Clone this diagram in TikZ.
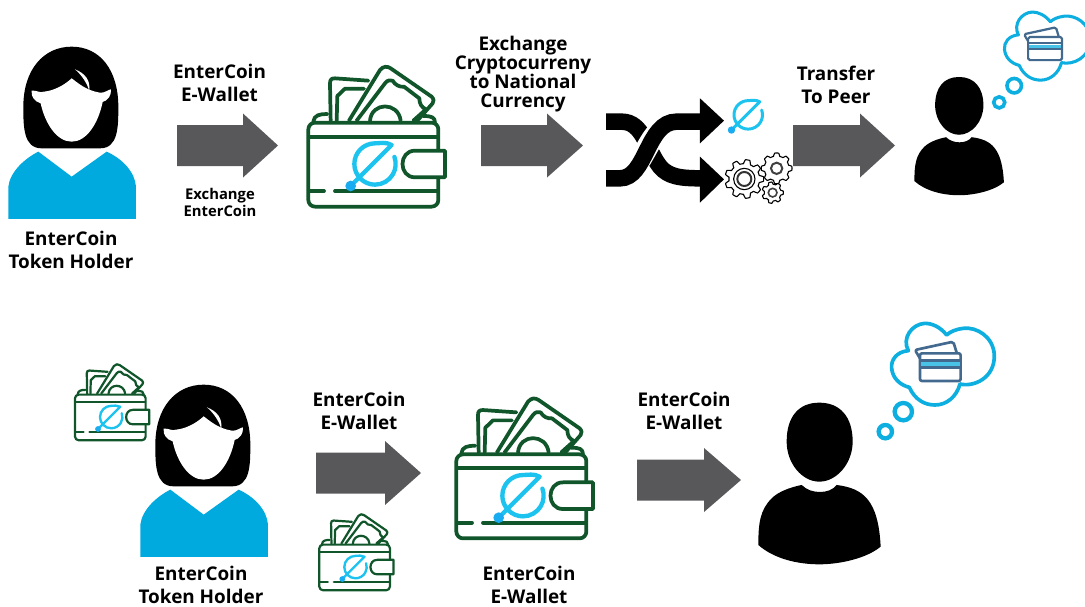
\documentclass[tikz,border=0pt]{standalone}
\usepackage{fontspec}
\setmainfont{Open Sans}
\definecolor{wgreen}{HTML}{10562A}
\definecolor{ecyan}{HTML}{1CC3EF}
\definecolor{wblue}{HTML}{00A9DE}
\definecolor{cblue}{HTML}{0DAEE0}
\definecolor{cardblue}{HTML}{44698F}
\definecolor{arrowgray}{HTML}{58585A}
\tikzset{
  lab/.style={align=center,text=black,font=\bfseries\fontsize{18.9}{22.5}\selectfont,inner sep=0pt},
  labtight/.style={align=center,text=black,font=\bfseries\fontsize{18.9}{19}\selectfont,inner sep=0pt},
  labsmall/.style={align=center,text=black,font=\bfseries\fontsize{14.8}{17}\selectfont,inner sep=0pt},
  blockarrow/.style={fill=arrowgray,draw=none},
}
\newcommand{\blockarr}[4]{\fill[blockarrow] (#1,#4-20.5) -- (#2,#4-20.5) -- (#2,#4-32) -- (#3,#4) -- (#2,#4+32) -- (#2,#4+20.5) -- (#1,#4+20.5) -- cycle;}
\newcommand{\elogo}[3]{\begin{scope}[shift={(#1,#2)},x=#3pt,y=-#3pt]
  \draw[ecyan,line width=#3*13pt,line cap=round,line join=round] (150,470) -- (275,345) .. controls (258,335) and (240,340) .. (225,340) arc[start angle=-90,end angle=-380,radius=62];
  \fill[ecyan!88!blue] (152,468) circle[radius=16];
\end{scope}}
\newcommand{\wallet}[3]{\begin{scope}[shift={(#1,#2)},x=#3pt,y=-#3pt]
  \begin{scope}[wgreen,line width=#3*10pt+0.4pt,line join=round,line cap=round]
  \draw (40,275) .. controls (42,255) and (60,252) .. (82,252);
  \draw (370,258) .. controls (395,258) and (405,262) .. (405,278);
  \draw (92,272) -- (90,160) .. controls (90,148) and (95,145) .. (105,145) -- (205,152);
  \draw (110,272) -- (112,198) -- (135,176) -- (192,176);
  \draw[fill=white] (147,272) -- (240,120) .. controls (250,108) and (262,108) .. (272,115) -- (395,200) .. controls (402,208) and (402,212) .. (398,220) -- (352,272);
  \draw (170,272) -- (255,160) .. controls (262,150) and (270,150) .. (278,152) .. controls (285,165) and (300,172) .. (312,170) -- (358,205) .. controls (358,222) and (365,232) .. (378,238) -- (340,272);
  \draw (210,272) .. controls (215,215) and (295,215) .. (302,272);
  \draw[fill=white,rounded corners=#3*20pt] (25,278) rectangle (415,530);
  \draw (28,320) -- (412,320);
  \draw (28,483) -- (72,483);
  \draw (105,483) -- (412,483);
  \end{scope}
  \draw[wgreen,line width=#3*10pt+0.4pt,fill=white,line join=round] (435,362) -- (345,362) .. controls (295,362) and (295,442) .. (345,442) -- (435,442) -- cycle;
\end{scope}
\elogo{#1}{#2}{#3}}
\newcommand{\womanfig}[2]{\begin{scope}[shift={(#1,#2)},x=0.3333pt,y=-0.3333pt]
  \fill[black] (215,50) .. controls (300,50) and (355,120) .. (355,230) .. controls (355,290) and (355,355) .. (300,355) -- (125,355) .. controls (70,355) and (70,290) .. (70,230) .. controls (70,120) and (130,50) .. (215,50) -- cycle;
  \fill[white] (132,185) .. controls (160,182) and (190,168) .. (215,145) .. controls (235,160) and (260,182) .. (300,188) .. controls (315,190) and (325,178) .. (333,178) .. controls (335,198) and (322,212) .. (308,216) .. controls (295,280) and (260,335) .. (215,335) .. controls (170,335) and (135,280) .. (122,220) .. controls (105,215) and (92,200) .. (95,182) .. controls (108,180) and (120,190) .. (132,185) -- cycle;
  \fill[white] (225,118) .. controls (255,130) and (272,150) .. (268,184) .. controls (262,160) and (245,135) .. (225,118) -- cycle;
  \fill[wblue] (25,567) -- (25,470) .. controls (30,425) and (75,385) .. (115,365) -- (215,440) -- (320,365) .. controls (365,385) and (405,425) .. (408,470) -- (408,567) -- cycle;
\end{scope}}
\newcommand{\gearfig}[5]{\draw[black,line width=1.1pt,fill=white,line join=round] plot[variable=\t,domain=0:360,samples=#5*12+1] ({#1+(#4+(#3-#4)*0.5*(1+max(-1,min(1,3*cos(#5*\t)))))*cos(\t)},{#2+(#4+(#3-#4)*0.5*(1+max(-1,min(1,3*cos(#5*\t)))))*sin(\t)}) -- cycle;}
\newcommand{\personfig}[3]{\begin{scope}[shift={(#1,#2)},x=#3pt,y=-#3pt]
  \fill[black] (238,278) .. controls (300,278) and (338,320) .. (338,395) .. controls (338,460) and (290,515) .. (238,515) .. controls (186,515) and (140,460) .. (140,395) .. controls (140,320) and (176,278) .. (238,278) -- cycle;
  \fill[black] (55,705) .. controls (55,640) and (60,600) .. (95,565) .. controls (115,545) and (150,532) .. (185,525) .. controls (200,540) and (220,546) .. (240,546) .. controls (260,546) and (278,540) .. (290,525) .. controls (370,535) and (415,570) .. (422,710) .. controls (380,745) and (300,763) .. (238,763) .. controls (170,763) and (100,745) .. (55,705) -- cycle;
\end{scope}}
\newcommand{\thoughtfig}[3]{\begin{scope}[shift={(#1,#2)},x=#3pt,y=-#3pt]
  \draw[cblue,line width=#3*13pt] (490,305) circle[radius=26];
  \draw[cblue,line width=#3*13pt] (436,365) circle[radius=20];
  \draw[cblue,line width=#3*11pt,fill=white,line join=round] (505,122) .. controls (470,125) and (452,150) .. (455,175) .. controls (458,205) and (480,225) .. (508,232) .. controls (525,270) and (555,285) .. (585,285) .. controls (620,285) and (650,260) .. (660,222) .. controls (700,232) and (765,205) .. (763,135) .. controls (760,80) and (710,50) .. (670,55) .. controls (650,57) and (630,65) .. (620,75) .. controls (600,50) and (575,40) .. (555,40) .. controls (515,42) and (485,85) .. (505,122) -- cycle;
  \begin{scope}[cardblue,line width=#3*8pt,line join=round]
  \draw[rounded corners=#3*6pt] (540,145) -- (525,120) -- (640,95) -- (650,128);
  \draw[fill=white,rounded corners=#3*6pt] (540,130) rectangle (662,213);
  \fill[cblue!75!white] (542,157) rectangle (660,170);
  \draw (540,152) -- (662,152);
  \draw (540,172) -- (662,172);
  \end{scope}
\end{scope}}
\begin{document}
\begin{tikzpicture}[x=1pt,y=-1pt]
\useasboundingbox (0,0) rectangle (1085,606);
% top row
\womanfig{0}{30}
\node[lab] (holderA) at (71,250) {EnterCoin\\Token Holder};
\node[lab] (walletlabA) at (219.5,83) {EnterCoin\\E-Wallet};
\blockarr{177}{243}{278}{145.5}
\node[labsmall] (exchA) at (220,202.5) {Exchange\\EnterCoin};
\wallet{300}{30}{0.3333}
\node[labtight] (exchB) at (523,74) {Exchange\\Cryptocurreny\\to National\\Currency};
\blockarr{481}{547}{583}{145.5}
\begin{scope}[shift={(590,80)},x=0.3333pt,y=-0.3333pt]
  \draw[black,line width=16.5pt] (48,125) -- (95,125) .. controls (160,125) and (170,210) .. (210,260) .. controls (235,290) and (270,295) .. (335,295);
  \draw[white,line width=22pt] (150,240) .. controls (180,190) and (190,160) .. (230,135);
  \draw[black,line width=16.5pt] (48,295) -- (90,295) .. controls (170,295) and (170,125) .. (260,125) -- (335,125);
  \fill[black] (330,55) -- (402,122) -- (330,190) -- cycle;
  \fill[black] (330,230) -- (402,298) -- (330,368) -- cycle;
  \gearfig{560}{265}{46}{37}{8}
  \draw[black!75,line width=2pt] (560,265) circle[radius=17];
  \gearfig{548}{338}{32}{25}{7}
  \draw[black!75,line width=1.6pt] (548,338) circle[radius=13];
  \gearfig{463}{297}{58}{46}{9}
  \draw[black,line width=1.1pt] (463,297) circle[radius=32];
  \draw[black!80,line width=2pt] (463,297) circle[radius=21];
\end{scope}
\elogo{696.5}{22.4}{0.23}
\node[lab] (transfer) at (836,85) {Transfer\\To Peer};
\blockarr{793}{860}{895}{145.5}
\personfig{901}{9.2}{0.2438}
\thoughtfig{878}{0.9}{0.278}
% bottom row
\wallet{70.5}{344.3}{0.181}
\womanfig{132}{368}
\node[lab] (holderB) at (201,585) {EnterCoin\\Token Holder};
\node[lab] (walletlabB) at (359,411) {EnterCoin\\E-Wallet};
\blockarr{316}{385}{421}{473}
\wallet{314.8}{494.3}{0.181}
\wallet{448}{361.7}{0.3333}
\node[lab] (walletlabC) at (529,585) {EnterCoin\\E-Wallet};
\node[lab] (walletlabD) at (684,411) {EnterCoin\\E-Wallet};
\blockarr{637}{704}{741}{480}
\personfig{740}{310}{0.3333}
\thoughtfig{740}{310}{0.3333}
\end{tikzpicture}
\end{document}
